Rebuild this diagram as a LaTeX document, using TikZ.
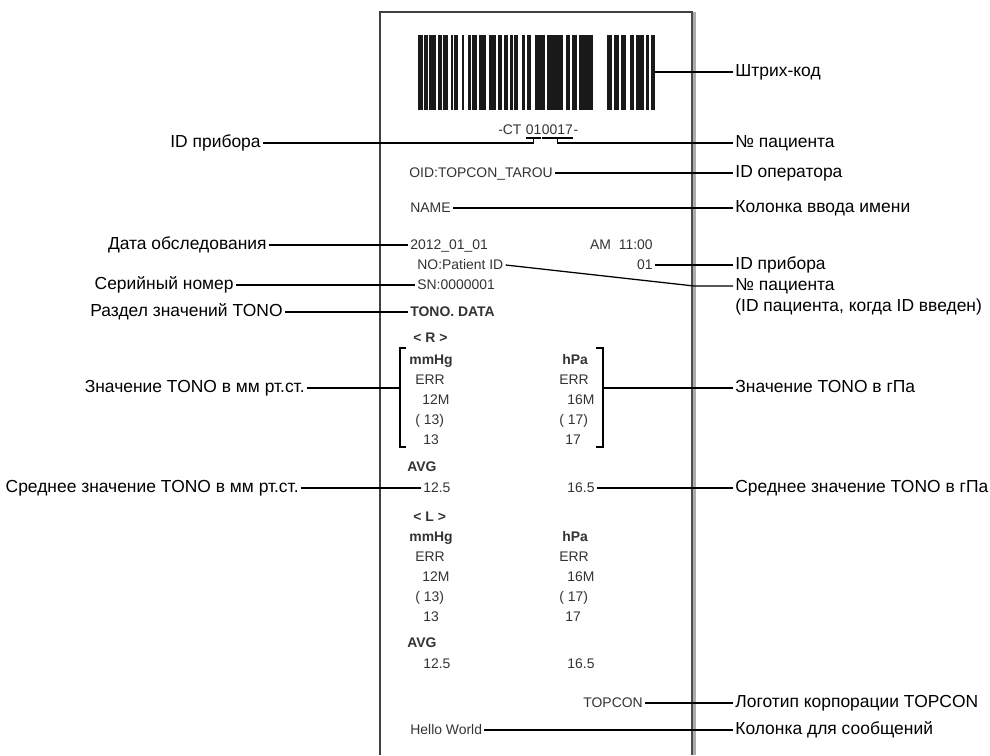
\documentclass[tikz,border=0pt]{standalone}
\usepackage{fontspec}
\setmainfont{Liberation Sans}
\usetikzlibrary{positioning}

\tikzset{
  lbl/.style={inner sep=1.5pt,font=\fontsize{12.4pt}{14pt}\selectfont,text height=1.6ex,text depth=.3ex},
  rc/.style={inner sep=1.5pt,font=\fontsize{9.9pt}{12pt}\selectfont,text=black!80,text height=1.6ex,text depth=.3ex},
  rcb/.style={rc,font=\fontsize{9.9pt}{12pt}\selectfont\bfseries},
  lead/.style={line width=.9pt},
}

\begin{document}
\begin{tikzpicture}[x=0.025cm,y=-0.025cm]
\useasboundingbox[fill=white] (0,0) rectangle (990,755);
% paper
\draw[line width=1.1pt,black!75] (380,755) -- (380,12) -- (693,12);
\draw[line width=3pt,gray!65] (694,12) -- (694,755);
\draw[line width=.8pt,black!70] (692,12) -- (692,755);
% barcode
\foreach \a/\b in {418/423,424/428,429/436,438/442,443/448,451/453,454/458,462/464,468/471,472/477,479/486,489/496,498/502,504/508,510/513,514/518,522/525,527/531,535/545,547/563,566/570,572/577,579/593,607/612,614/619,621/626,630/634,636/644,646/649,651/655}
  \fill[black!90] (\a,35) rectangle (\b,110);
\coordinate (bc) at (655,72);

% receipt text
\node[rc,inner sep=0,anchor=west] (ct) at (498,130) {-CT\kern.28em};
\node[rc,inner sep=0,right=0pt of ct] (d1) {01};
\node[rc,inner sep=0,right=0pt of d1] (d2) {0017};
\node[rc,inner sep=0,right=0pt of d2] (ct2) {-};
\node[rc,anchor=west] (oid) at (407,173) {OID:TOPCON\_TAROU};
\node[rc,anchor=west] (nm) at (408,208) {NAME};
\node[rc,anchor=west] (dt) at (408,245) {2012\_01\_01};
\node[rc,anchor=east] (tm) at (655,245) {AM\ \ 11:00};
\node[rc,anchor=west] (pid) at (415,265) {NO:Patient ID};
\node[rc,anchor=east] (dev) at (655,265) {01};
\node[rc,anchor=west] (sn) at (415,285) {SN:0000001};
\node[rcb,anchor=west] (td) at (408,312) {TONO. DATA};
% right eye
\node[rcb,anchor=west] (re) at (411,338) {< R >};
\node[rcb,anchor=west] (rmm) at (407,360) {mmHg};
\node[rc,anchor=west] (rm1) at (413,380) {ERR};
\node[rc,anchor=west] (rm2) at (420,400) {12M};
\node[rc,anchor=west] (rm3) at (413,420) {(\ 13)};
\node[rc,anchor=west] (rm4) at (421,440) {13};
\node[rcb,anchor=west] (rh) at (560,360) {hPa};
\node[rc,anchor=west] (rh1) at (557,380) {ERR};
\node[rc,anchor=west] (rh2) at (565,400) {16M};
\node[rc,anchor=west] (rh3) at (557,420) {(\ 17)};
\node[rc,anchor=west] (rh4) at (563,440) {17};
\node[rcb,anchor=west] (ravg) at (405,467) {AVG};
\node[rc,anchor=west] (ram) at (421,488) {12.5};
\node[rc,anchor=west] (rah) at (565,488) {16.5};
% left eye
\node[rcb,anchor=west] (le) at (411,517) {< L >};
\node[rcb,anchor=west] (lmm) at (407,537) {mmHg};
\node[rc,anchor=west] (lm1) at (413,557) {ERR};
\node[rc,anchor=west] (lm2) at (420,577) {12M};
\node[rc,anchor=west] (lm3) at (413,597) {(\ 13)};
\node[rc,anchor=west] (lm4) at (421,617) {13};
\node[rcb,anchor=west] (lh) at (560,537) {hPa};
\node[rc,anchor=west] (lh1) at (557,557) {ERR};
\node[rc,anchor=west] (lh2) at (565,577) {16M};
\node[rc,anchor=west] (lh3) at (557,597) {(\ 17)};
\node[rc,anchor=west] (lh4) at (563,617) {17};
\node[rcb,anchor=west] (lavg) at (405,643) {AVG};
\node[rc,anchor=west] (lam) at (421,664) {12.5};
\node[rc,anchor=west] (lah) at (565,664) {16.5};
\node[rc,anchor=west] (logo) at (581,703) {TOPCON};
\node[rc,anchor=west] (msg) at (408,730) {Hello World};

% brackets
\draw[line width=.8pt] ([xshift=.7pt]d1.south west) |- (d1.south |- 0,138) -| ([xshift=-.7pt]d1.south east);
\draw[line width=.8pt] ([xshift=.7pt]d2.south west) |- (d2.south |- 0,138) -| ([xshift=-.7pt]d2.south east);
\coordinate (b1e) at (d1.south |- 0,143);
\coordinate (b2e) at (d2.south |- 0,143);
\draw[line width=.8pt] (d1.south |- 0,138) -- (b1e);
\draw[line width=.8pt] (d2.south |- 0,138) -- (b2e);
\draw[line width=.8pt] (406,348) -- (400,348) -- (400,447) -- (406,447);
\draw[line width=.8pt] (596,348) -- (603,348) -- (603,447) -- (596,447);
\coordinate (brl) at (400,388);
\coordinate (brr) at (603,388);
\coordinate (pe) at (694,286);

% labels left
\node[lbl,anchor=east] (l1) at (263,143) {ID прибора};
\node[lbl,anchor=east] (l2) at (269,245) {Дата обследования};
\node[lbl,anchor=east] (l3) at (236,285) {Серийный номер};
\node[lbl,anchor=east] (l4) at (285,312) {Раздел значений TONO};
\node[lbl,anchor=east] (l5) at (307,388) {Значение TONO в мм рт.ст.};
\node[lbl,anchor=east] (l6) at (301,488) {Среднее значение TONO в мм рт.ст.};
% labels right
\node[lbl,anchor=west] (r1) at (733,72) {Штрих-код};
\node[lbl,anchor=west] (r2) at (733,143) {№ пациента};
\node[lbl,anchor=west] (r3) at (733,173) {ID оператора};
\node[lbl,anchor=west] (r4) at (733,208) {Колонка ввода имени};
\node[lbl,anchor=west] (r5) at (733,265) {ID прибора};
\node[lbl,anchor=west] (r6) at (733,286) {№ пациента};
\node[lbl,anchor=west] (r6b) at (733,307) {(ID пациента, когда ID введен)};
\node[lbl,anchor=west] (r7) at (733,388) {Значение TONO в гПа};
\node[lbl,anchor=west] (r8) at (733,488) {Среднее значение TONO в гПа};
\node[lbl,anchor=west] (r9) at (733,703) {Логотип корпорации TOPCON};
\node[lbl,anchor=west] (r10) at (733,730) {Колонка для сообщений};

% leaders
\draw[lead] (bc) -- (r1.west);
\draw[lead] (l1.east) -- (b1e);
\draw[lead] (b2e) -- (r2.west);
\draw[lead] (oid.east) -- (r3.west);
\draw[lead] (nm.east) -- (r4.west);
\draw[lead] (l2.east) -- (dt.west);
\draw[lead] (dev.east) -- (r5.west);
\draw[lead] (pid.east) -- (pe) -- (r6.west);
\draw[lead] (l3.east) -- (sn.west);
\draw[lead] (l4.east) -- (td.west);
\draw[lead] (l5.east) -- (brl);
\draw[lead] (brr) -- (r7.west);
\draw[lead] (l6.east) -- (ram.west);
\draw[lead] (rah.east) -- (r8.west);
\draw[lead] (logo.east) -- (r9.west);
\draw[lead] (msg.east) -- (r10.west);
\end{tikzpicture}
\end{document}
